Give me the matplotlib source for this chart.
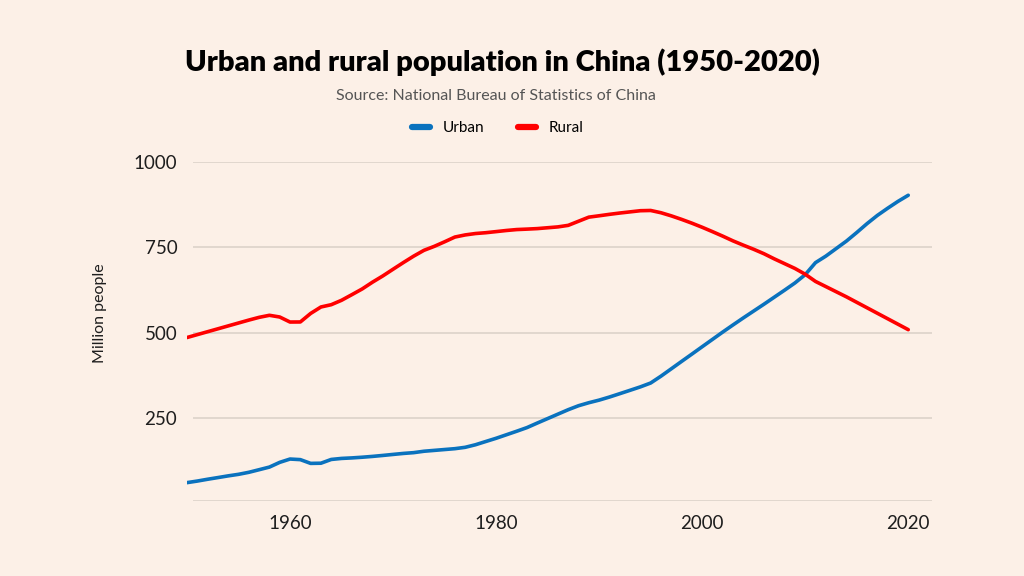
import matplotlib
matplotlib.use("Agg")
import matplotlib.pyplot as plt
from matplotlib.lines import Line2D

plt.rcParams['font.family'] = ['Lato', 'DejaVu Sans']

# Data (million people)
years = list(range(1950, 2021))
urban = [61.7, 66.3, 71.6, 76.5, 81.5, 86.0, 91.9, 99.5, 107.2, 121.0,
         130.7, 129.0, 118.0, 118.5, 129.5, 132.5, 134.0, 136.0, 138.4, 141.2,
         144.2, 147.1, 149.4, 153.5, 156.0, 158.5, 161.0, 165.0, 172.5, 182.0,
         191.4, 201.7, 212.0, 222.7, 236.0, 249.0, 262.0, 275.0, 286.6, 295.4,
         303.0, 312.0, 321.8, 331.7, 341.7, 353.0, 373.0, 394.5, 416.1, 437.5,
         459.1, 480.6, 502.1, 523.0, 543.5, 563.5, 583.5, 604.0, 624.5, 645.5,
         669.8, 705.0, 724.0, 746.0, 768.0, 793.0, 819.0, 843.0, 864.0, 884.0,
         902.0]
rural = [486.0, 494.5, 503.0, 511.5, 520.0, 528.5, 537.0, 545.0, 551.0, 546.0,
         531.3, 531.5, 556.4, 575.3, 582.0, 594.9, 611.3, 628.0, 647.8, 666.0,
         685.7, 705.2, 724.0, 741.0, 752.6, 765.9, 779.8, 786.0, 790.1, 792.5,
         795.7, 799.0, 801.7, 803.0, 804.5, 807.0, 809.5, 814.0, 826.0, 838.0,
         842.0, 846.2, 850.0, 853.4, 856.8, 857.5, 850.9, 841.8, 831.5, 820.4,
         808.4, 795.6, 782.4, 768.5, 756.0, 744.0, 731.0, 716.0, 702.0, 688.0,
         671.1, 650.0, 635.0, 620.0, 605.0, 589.0, 573.0, 557.0, 541.0, 525.0,
         509.0]

yticks = [250, 500, 750, 1000]
xticks = [1960, 1980, 2000, 2020]

bg = '#FCF0E7'
blue = '#0A72BE'
red = '#FF0000'
grid_col = '#DCD2CA'
text_col = '#1E1E1E'

fig = plt.figure(figsize=(10.24, 5.76), dpi=100, facecolor=bg)
ax = fig.add_axes([0.1826, 0.1302, 0.7275, 0.589])
ax.set_facecolor(bg)

ax.set_xlim(1950, 2022.3)
ax.set_ylim(8, 1000)

# gridlines (start a little right of the data)
for yv in [8] + yticks:
    ax.hlines(yv, 1950.6, 2022.3, color=grid_col, lw=1.2, zorder=1)

ax.plot(years, urban, color=blue, lw=2.6, solid_capstyle='round',
        solid_joinstyle='round', zorder=3)
ax.plot(years, rural, color=red, lw=2.6, solid_capstyle='round',
        solid_joinstyle='round', zorder=3)

for s in ax.spines.values():
    s.set_visible(False)
ax.tick_params(length=0, labelsize=13.5, labelcolor=text_col)
ax.tick_params(axis='y', pad=7)
ax.tick_params(axis='x', pad=10)
ax.set_yticks(yticks)
ax.set_xticks(xticks)
ax.set_ylabel('Million people', fontsize=11.5, color=text_col)
ax.yaxis.set_label_coords(-0.108, 0.555)

fig.text(0.491, 0.892, 'Urban and rural population in China (1950-2020)',
         ha='center', va='center', fontsize=21, fontweight='heavy', color='black')
fig.text(0.484, 0.833, 'Source: National Bureau of Statistics of China',
         ha='center', va='center', fontsize=11.5, color='#555555')

handles = [Line2D([], [], color=blue, lw=4.5, solid_capstyle='round'),
           Line2D([], [], color=red, lw=4.5, solid_capstyle='round')]
fig.legend(handles, ['Urban', 'Rural'], loc='center', bbox_to_anchor=(0.486, 0.778),
           ncol=2, frameon=False, fontsize=11, handlelength=1.2,
           columnspacing=2.2, handletextpad=0.8)

fig.savefig('out.png', dpi=100, facecolor=bg)
